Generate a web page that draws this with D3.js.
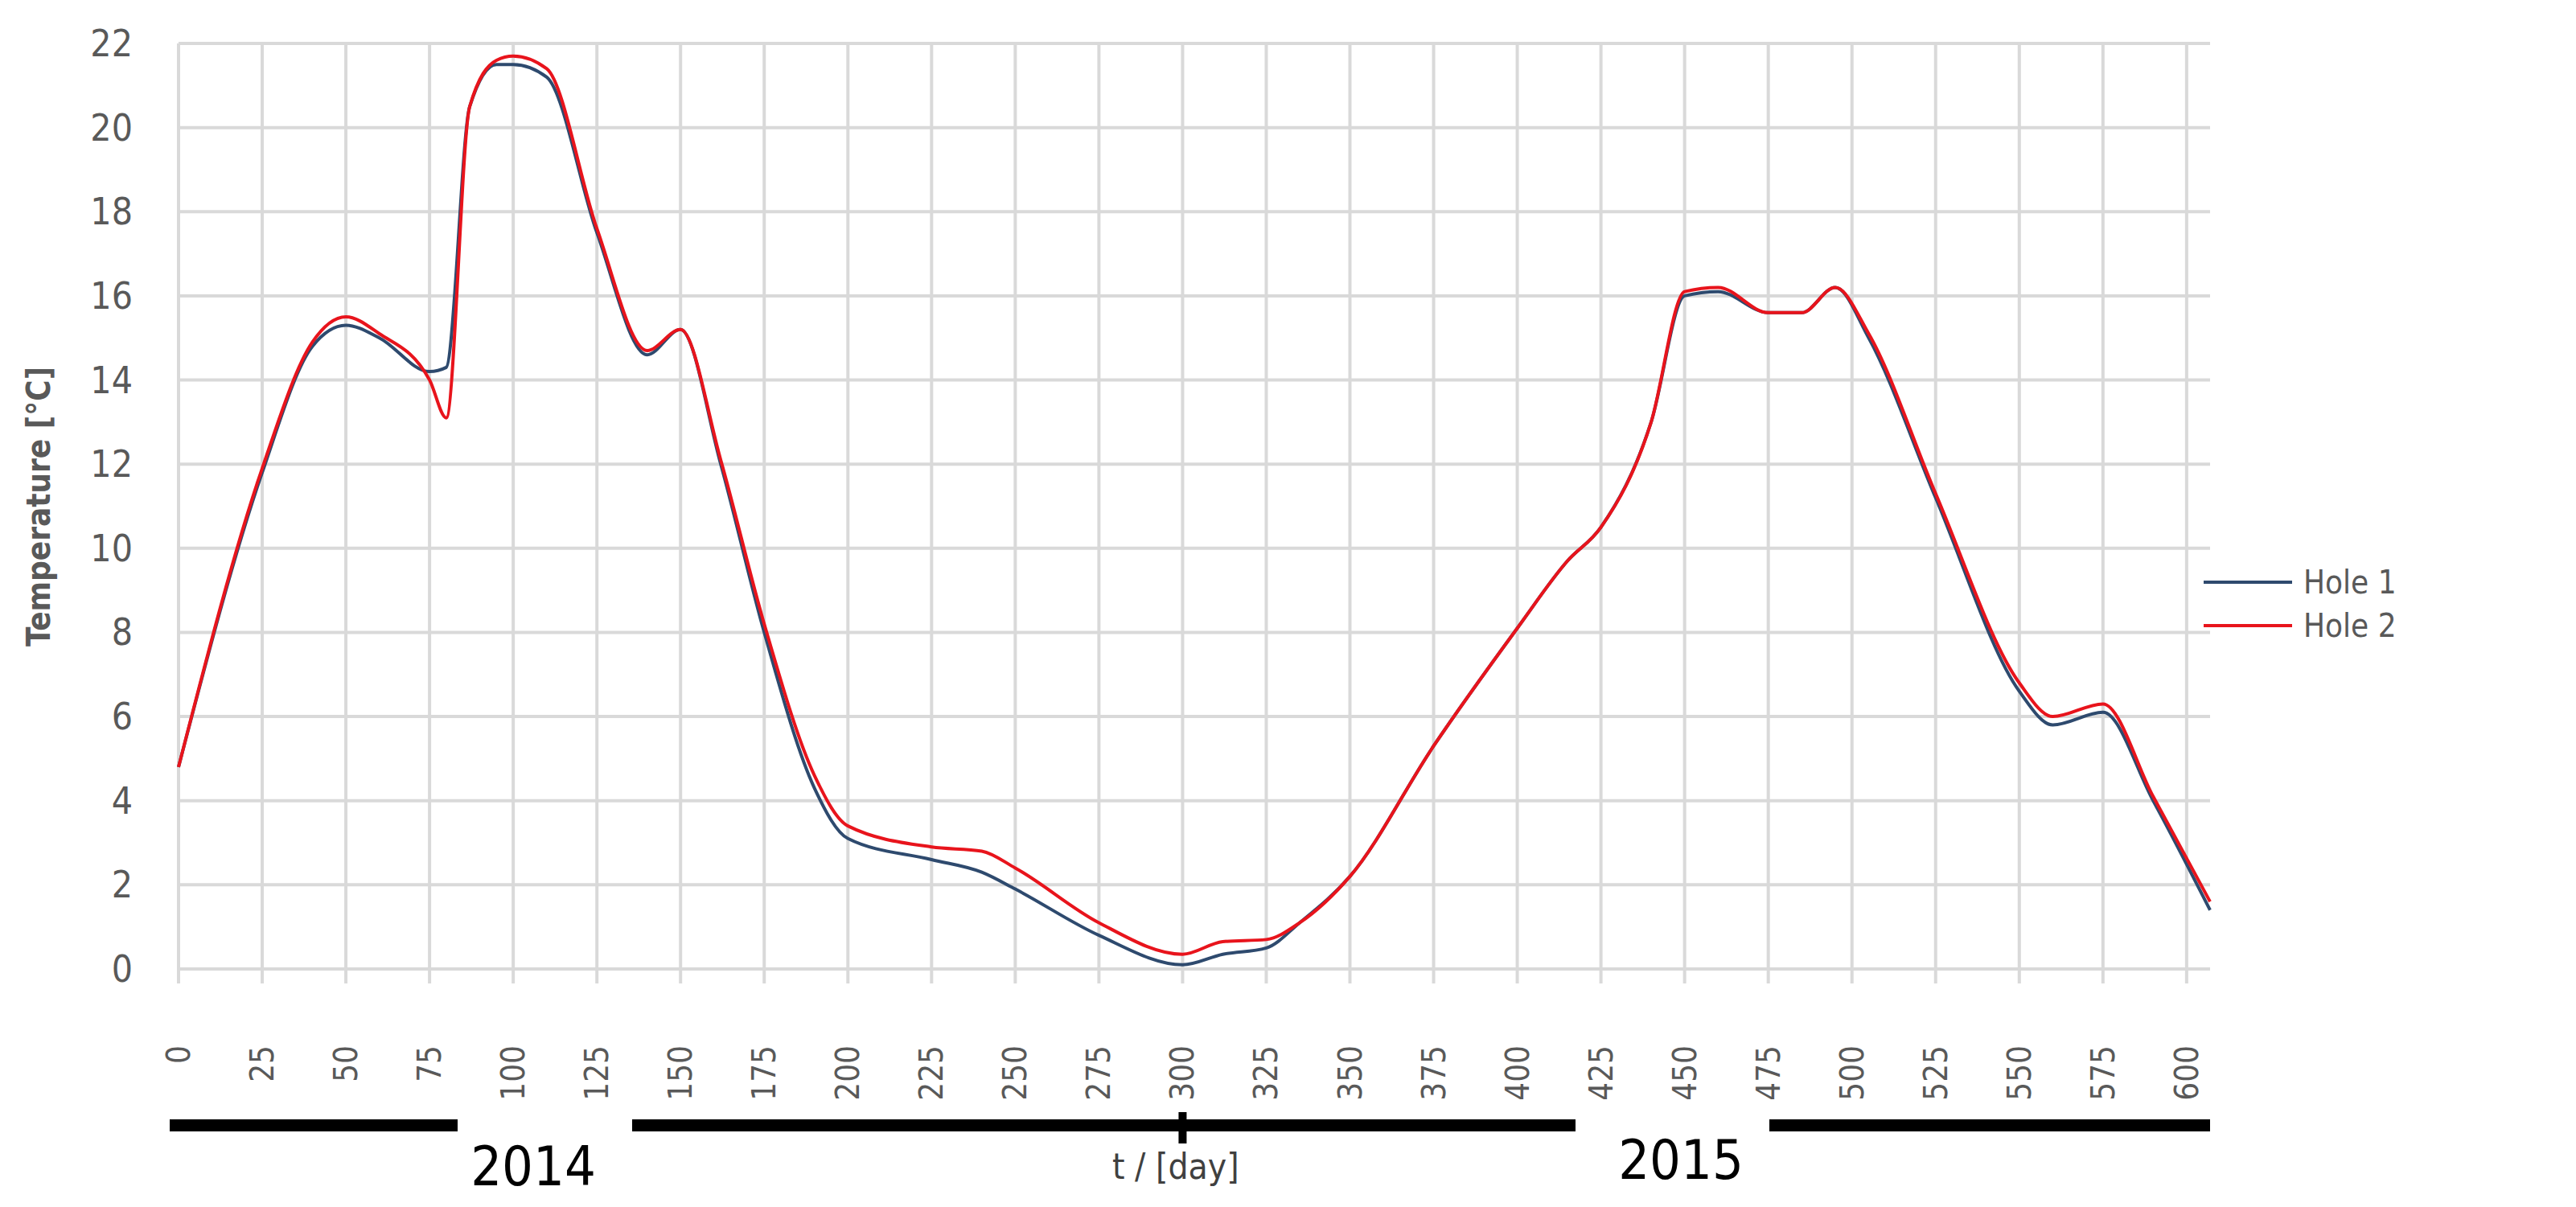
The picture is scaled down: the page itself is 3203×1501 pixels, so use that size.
<!DOCTYPE html>
<html>
<head>
<meta charset="utf-8">
<script src="https://cdn.jsdelivr.net/npm/d3@7"></script>
<style>
  body { margin: 0; background: #fff; }
  text { font-family: "DejaVu Sans Condensed", "Liberation Sans Narrow", sans-serif; }
</style>
</head>
<body>
<svg id="chart" width="3203" height="1501"></svg>
<script>
"use strict"

// data
let days = [0, 25, 40, 50, 60, 75, 80, 87, 95, 100, 110, 125, 140, 150, 162, 175, 190, 200, 225, 240, 250, 275, 300, 312, 325, 335, 350, 375, 400, 415, 425, 440, 450, 460, 475, 485, 495, 505, 525, 550, 560, 575, 590, 607];
let hole1 = [4.8, 11.8, 14.8, 15.3, 15.0, 14.2, 14.3, 20.5, 21.5, 21.5, 21.2, 17.5, 14.6, 15.2, 12.0, 8.0, 4.3, 3.1, 2.6, 2.3, 1.9, 0.8, 0.1, 0.35, 0.5, 1.1, 2.2, 5.3, 8.1, 9.7, 10.5, 13.0, 16.0, 16.1, 15.6, 15.6, 16.2, 15.0, 11.2, 6.6, 5.8, 6.1, 4.0, 1.4];
let hole2 = [4.8, 11.9, 14.9, 15.5, 15.1, 14.0, 13.1, 20.5, 21.6, 21.7, 21.4, 17.6, 14.7, 15.2, 12.1, 8.2, 4.6, 3.4, 2.9, 2.8, 2.4, 1.1, 0.35, 0.65, 0.7, 1.1, 2.2, 5.3, 8.1, 9.7, 10.5, 13.0, 16.1, 16.2, 15.6, 15.6, 16.2, 15.1, 11.3, 6.8, 6.0, 6.3, 4.1, 1.6];
let xTicks = d3.range(0, 601, 25);
let yTicks = d3.range(0, 23, 2);
let seriesNames = ["Hole 1", "Hole 2"];
let seriesColors = ["#2e4a6e", "#e8141c"];

let svg = d3.select("#chart");
let x = d3.scaleLinear().domain([0, 607]).range([222, 2748]);
let y = d3.scaleLinear().domain([0, 22]).range([1205, 54]);

// grid
svg.append("g").selectAll("line").data(yTicks).join("line")
  .attr("x1", x(0)).attr("x2", x(607))
  .attr("y1", d => y(d)).attr("y2", d => y(d))
  .attr("stroke", "#d9d9d9").attr("stroke-width", 4);
svg.append("g").selectAll("line").data(xTicks).join("line")
  .attr("x1", d => x(d)).attr("x2", d => x(d))
  .attr("y1", y(22)).attr("y2", y(0) + 18)
  .attr("stroke", "#d9d9d9").attr("stroke-width", 4);

// y tick labels
svg.append("g").selectAll("text").data(yTicks).join("text")
  .attr("x", 165).attr("y", d => y(d) + 16)
  .attr("text-anchor", "end").attr("font-size", 46).attr("fill", "#595959")
  .text(d => d);

// x tick labels (rotated)
svg.append("g").selectAll("text").data(xTicks).join("text")
  .attr("transform", d => `translate(${x(d) + 14},1300) rotate(-90)`)
  .attr("text-anchor", "end").attr("font-size", 40).attr("fill", "#595959")
  .text(d => d);

// axis titles
svg.append("text")
  .attr("transform", "translate(62,630) rotate(-90)")
  .attr("text-anchor", "middle").attr("font-size", 40).attr("font-weight", "bold")
  .attr("fill", "#595959").text("Temperature [°C]");
svg.append("text").attr("x", 1383).attr("y", 1466)
  .attr("font-size", 44).attr("fill", "#404040").text("t / [day]");

// series
let line = d3.line().x(d => x(d[0])).y(d => y(d[1])).curve(d3.curveMonotoneX);
[hole1, hole2].forEach(function(vals, i) {
  svg.append("path")
    .datum(days.map((d, j) => [d, vals[j]]))
    .attr("d", line).attr("fill", "none")
    .attr("stroke", seriesColors[i]).attr("stroke-width", 4);
});

// legend
seriesNames.forEach(function(name, i) {
  let ly = 724 + i * 54;
  svg.append("line").attr("x1", 2740).attr("x2", 2850).attr("y1", ly).attr("y2", ly)
    .attr("stroke", seriesColors[i]).attr("stroke-width", 4);
  svg.append("text").attr("x", 2864).attr("y", ly + 14)
    .attr("font-size", 40).attr("fill", "#595959").text(name);
});

// year bars
let bars = [[211, 569], [786, 1959], [2200, 2748]];
svg.append("g").selectAll("rect").data(bars).join("rect")
  .attr("x", d => d[0]).attr("width", d => d[1] - d[0])
  .attr("y", 1392).attr("height", 15).attr("fill", "#000");
svg.append("rect").attr("x", x(300) - 5).attr("y", 1383).attr("width", 10).attr("height", 39).attr("fill", "#000");
svg.append("text").attr("x", 663).attr("y", 1474).attr("text-anchor", "middle")
  .attr("font-size", 68).attr("fill", "#000").text("2014");
svg.append("text").attr("x", 2090).attr("y", 1466).attr("text-anchor", "middle")
  .attr("font-size", 68).attr("fill", "#000").text("2015");
</script>
</body>
</html>
